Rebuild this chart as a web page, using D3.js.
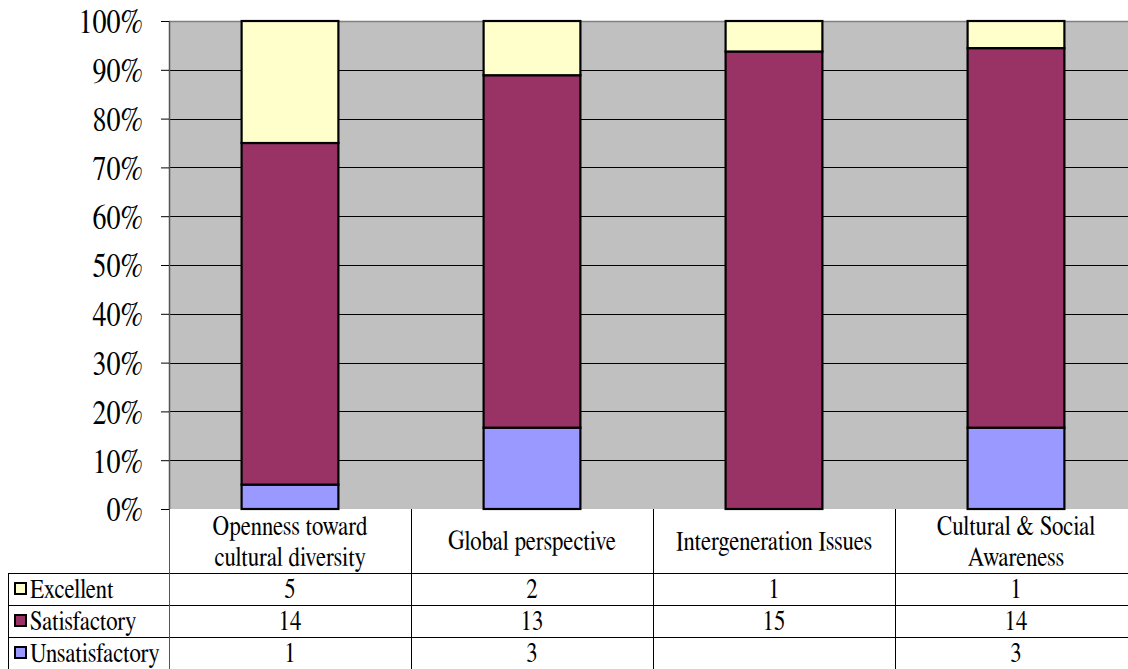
<!DOCTYPE html>
<html><head><meta charset="utf-8">
<script src="https://cdn.jsdelivr.net/npm/d3@7"></script>
<style>body{margin:0;background:#fff;overflow:hidden}svg{display:block}</style>
</head><body>
<svg id="c" width="1128" height="669"></svg>
<script>
const categories = [["Openness toward","cultural diversity"],["Global perspective"],["Intergeneration Issues"],["Cultural & Social","Awareness"]];
const seriesNames = ["Excellent","Satisfactory","Unsatisfactory"];
const excellent = [5,2,1,1];
const satisfactory = [14,13,15,14];
const unsatisfactory = [1,3,null,3];
const colors = ["#FFFFCC","#993366","#9999FF"];
const yTicks = [0,0.1,0.2,0.3,0.4,0.5,0.6,0.7,0.8,0.9,1];

const FONT = "FreeSerif";
const svg = d3.select("#c");
const L=169, R=1137, T=21, B=509;
const x = d3.scaleBand().domain(d3.range(4)).range([L,R]).paddingInner(0).paddingOuter(0);
const y = d3.scaleLinear().domain([0,1]).range([B,T]);

svg.append("rect").attr("x",L).attr("y",T).attr("width",R-L).attr("height",B-T).attr("fill","#C0C0C0");
svg.append("g").selectAll("line").data(yTicks.slice(1,-1)).join("line")
  .attr("x1",L).attr("x2",R).attr("y1",d=>Math.round(y(d))+0.5).attr("y2",d=>Math.round(y(d))+0.5)
  .attr("stroke","#000").attr("stroke-width",1);
svg.append("line").attr("x1",L).attr("x2",R).attr("y1",T+0.5).attr("y2",T+0.5).attr("stroke","#808080").attr("stroke-width",1.5);
svg.append("line").attr("x1",L+0.5).attr("x2",L+0.5).attr("y1",T).attr("y2",B).attr("stroke","#555").attr("stroke-width",1.5);

const rows = d3.range(4).map(i=>({i, u:unsatisfactory[i]||0, s:satisfactory[i]||0, e:excellent[i]||0}));
const stack = d3.stack().keys(["u","s","e"]).offset(d3.stackOffsetExpand)(rows);
const keyColor = {u:colors[2], s:colors[1], e:colors[0]};
const bw = x.bandwidth()*0.4;
stack.forEach(layer=>{
  svg.append("g").selectAll("rect").data(layer.filter(d=>d[1]-d[0]>0)).join("rect")
    .attr("x",d=>x(d.data.i)+x.bandwidth()/2-bw/2)
    .attr("width",bw)
    .attr("y",d=>y(d[1]))
    .attr("height",d=>y(d[0])-y(d[1]))
    .attr("fill",keyColor[layer.key]).attr("stroke","#000").attr("stroke-width",2.2);
});

const ya = svg.append("g").attr("transform",`translate(${L},0)`)
  .call(d3.axisLeft(y).tickValues(yTicks).tickFormat(d3.format(".0%")).tickSize(8).tickPadding(0));
ya.attr("font-family",FONT);
ya.select(".domain").remove();
ya.selectAll(".tick line").attr("stroke","#000");
ya.selectAll(".tick text").remove();
ya.selectAll(".tick").append("text")
  .attr("transform",`translate(-26,0) scale(0.8,1)`)
  .attr("text-anchor","end").attr("dy","0.34em")
  .attr("font-family",FONT).style("font-family",FONT).style("font-size","35px").attr("fill","#000").text(d=>d3.format(".0%")(d));

const tb = svg.append("g").attr("font-family",FONT);
const rowY = [509,573,605,637,669];
const lineC = "#000";
[573,605,637].forEach(yy=>tb.append("line").attr("x1",8).attr("x2",R).attr("y1",yy+0.5).attr("y2",yy+0.5).attr("stroke",lineC));
tb.append("line").attr("x1",8.5).attr("x2",8.5).attr("y1",573).attr("y2",669).attr("stroke",lineC);
d3.range(5).forEach(i=>{
  const xx = (i<4?x(i):R);
  tb.append("line").attr("x1",xx+0.5).attr("x2",xx+0.5).attr("y1",509).attr("y2",669).attr("stroke",i==0?"#555":lineC);
});
const SX=0.85;
function txt(g,tx,ty,s,anchor){
  return g.append("text").attr("transform",`translate(${tx},${ty}) scale(${SX},1)`)
    .attr("text-anchor",anchor).attr("dy","0.34em")
    .attr("font-family",FONT).style("font-family",FONT).style("font-size","27px").attr("fill","#000").text(s);
}
categories.forEach((lines,i)=>{
  const cx = x(i)+x.bandwidth()/2;
  const cy = (rowY[0]+rowY[1])/2;
  const lh = 31;
  lines.forEach((t,j)=>txt(tb,cx,cy+(j-(lines.length-1)/2)*lh,t,"middle"));
});
const series = [excellent,satisfactory,unsatisfactory];
series.forEach((vals,r)=>{
  const cy = (rowY[r+1]+rowY[r+2])/2;
  tb.append("rect").attr("x",15).attr("y",cy-6).attr("width",11).attr("height",11)
    .attr("fill",colors[r]).attr("stroke","#000").attr("stroke-width",2);
  txt(tb,30,cy,seriesNames[r],"start");
  vals.forEach((v,i)=>{
    if(v==null) return;
    txt(tb,x(i)+x.bandwidth()/2,cy,v,"middle");
  });
});
</script>
</body></html>
